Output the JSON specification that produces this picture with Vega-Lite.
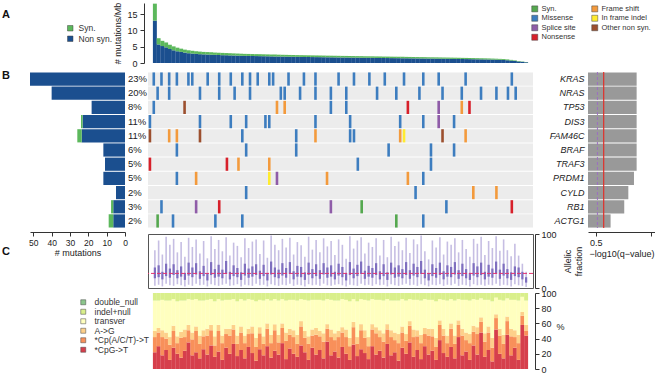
{
"$schema":"https://vega.github.io/schema/vega-lite/v6.json",
"padding":{"left":2,"top":2,"right":0,"bottom":0},
"columns":4,"align":"each","bounds":"flush","spacing":{"row":5,"column":23},
"resolve":{"scale":{"color":"independent","x":"independent","y":"independent"},"legend":{"color":"independent"}},
"config":{"view":{"stroke":null},"font":"Liberation Sans",
"axis":{"labelFontSize":9,"titleFontSize":9,"labelColor":"#222","titleColor":"#222","titleFontWeight":"normal","tickColor":"#333","domainColor":"#333","grid":false,"tickSize":4,"labelPadding":2,"labelOverlap":false},
"legend":{"labelFontSize":8.5,"labelColor":"#333","symbolType":"square","symbolStrokeColor":"#444","symbolStrokeWidth":0.5}},
"datasets":{
"samples":[
{"s":1,"n":13.0,"y":5.2,"l":4,"a":18,"b":38,"h":70,"r":22,"o":20,"g":8,"t":40,"i":10},
{"s":2,"n":5.7,"y":1.9,"l":6,"a":20,"b":42,"h":88,"r":30,"o":18,"g":6,"t":36,"i":10},
{"s":3,"n":5.2,"y":1.6,"l":3,"a":16,"b":30,"h":62,"r":18,"o":24,"g":9,"t":40,"i":9},
{"s":4,"n":4.8,"y":1.5,"l":8,"a":22,"b":45,"h":95,"r":25,"o":15,"g":8,"t":42,"i":10},
{"s":5,"n":4.3,"y":1.3,"l":5,"a":19,"b":36,"h":80,"r":12,"o":20,"g":10,"t":48,"i":10},
{"s":6,"n":3.9,"y":1.2,"l":4,"a":24,"b":44,"h":91,"r":28,"o":22,"g":7,"t":35,"i":8},
{"s":7,"n":3.6,"y":1.1,"l":7,"a":18,"b":33,"h":66,"r":20,"o":14,"g":9,"t":46,"i":11},
{"s":8,"n":3.4,"y":1.0,"l":5,"a":21,"b":40,"h":85,"r":15,"o":26,"g":8,"t":41,"i":10},
{"s":9,"n":3.2,"y":0.9,"l":3,"a":15,"b":28,"h":58,"r":24,"o":18,"g":10,"t":38,"i":10},
{"s":10,"n":3.0,"y":0.9,"l":6,"a":23,"b":47,"h":93,"r":35,"o":16,"g":7,"t":34,"i":8},
{"s":11,"n":2.9,"y":0.85,"l":4,"a":20,"b":38,"h":76,"r":18,"o":21,"g":9,"t":43,"i":9},
{"s":12,"n":2.8,"y":0.8,"l":8,"a":25,"b":46,"h":90,"r":22,"o":28,"g":6,"t":36,"i":8},
{"s":13,"n":2.7,"y":0.8,"l":5,"a":17,"b":31,"h":64,"r":14,"o":19,"g":11,"t":46,"i":10},
{"s":14,"n":2.65,"y":0.75,"l":6,"a":22,"b":41,"h":87,"r":26,"o":17,"g":8,"t":39,"i":10},
{"s":15,"n":2.6,"y":0.75,"l":3,"a":14,"b":27,"h":55,"r":19,"o":25,"g":9,"t":38,"i":9},
{"s":16,"n":2.55,"y":0.75,"l":7,"a":24,"b":48,"h":96,"r":31,"o":20,"g":7,"t":34,"i":8},
{"s":17,"n":2.5,"y":0.7,"l":5,"a":19,"b":35,"h":72,"r":16,"o":15,"g":12,"t":46,"i":11},
{"s":18,"n":2.45,"y":0.7,"l":4,"a":21,"b":43,"h":89,"r":23,"o":27,"g":8,"t":34,"i":8},
{"s":19,"n":2.4,"y":0.7,"l":6,"a":18,"b":34,"h":68,"r":12,"o":22,"g":10,"t":46,"i":10},
{"s":20,"n":2.38,"y":0.67,"l":8,"a":26,"b":50,"h":94,"r":28,"o":18,"g":7,"t":38,"i":9},
{"s":21,"n":2.33,"y":0.67,"l":4,"a":16,"b":30,"h":60,"r":20,"o":24,"g":9,"t":38,"i":9},
{"s":22,"n":2.3,"y":0.65,"l":5,"a":22,"b":42,"h":84,"r":33,"o":19,"g":6,"t":34,"i":8},
{"s":23,"n":2.26,"y":0.64,"l":7,"a":20,"b":37,"h":78,"r":17,"o":16,"g":11,"t":45,"i":11},
{"s":24,"n":2.22,"y":0.63,"l":3,"a":15,"b":29,"h":57,"r":25,"o":23,"g":8,"t":36,"i":8},
{"s":25,"n":2.19,"y":0.61,"l":6,"a":23,"b":45,"h":92,"r":14,"o":20,"g":10,"t":46,"i":10},
{"s":26,"n":2.17,"y":0.61,"l":5,"a":19,"b":36,"h":74,"r":29,"o":17,"g":7,"t":39,"i":8},
{"s":27,"n":2.15,"y":0.6,"l":4,"a":21,"b":40,"h":86,"r":21,"o":26,"g":9,"t":35,"i":9},
{"s":28,"n":2.12,"y":0.6,"l":8,"a":24,"b":44,"h":90,"r":11,"o":18,"g":12,"t":48,"i":11},
{"s":29,"n":2.1,"y":0.6,"l":5,"a":17,"b":32,"h":63,"r":26,"o":21,"g":8,"t":36,"i":9},
{"s":30,"n":2.08,"y":0.59,"l":6,"a":22,"b":43,"h":88,"r":18,"o":15,"g":10,"t":47,"i":10},
{"s":31,"n":2.06,"y":0.58,"l":3,"a":14,"b":28,"h":56,"r":30,"o":23,"g":7,"t":32,"i":8},
{"s":32,"n":2.03,"y":0.57,"l":7,"a":25,"b":49,"h":97,"r":15,"o":19,"g":11,"t":45,"i":10},
{"s":33,"n":2.01,"y":0.57,"l":5,"a":20,"b":38,"h":80,"r":24,"o":27,"g":8,"t":33,"i":8},
{"s":34,"n":1.99,"y":0.56,"l":4,"a":18,"b":34,"h":70,"r":19,"o":16,"g":10,"t":45,"i":10},
{"s":35,"n":1.97,"y":0.55,"l":6,"a":23,"b":46,"h":91,"r":34,"o":20,"g":6,"t":32,"i":8},
{"s":36,"n":1.95,"y":0.55,"l":5,"a":19,"b":37,"h":75,"r":13,"o":24,"g":11,"t":42,"i":10},
{"s":37,"n":1.93,"y":0.54,"l":8,"a":26,"b":48,"h":93,"r":27,"o":18,"g":8,"t":38,"i":9},
{"s":38,"n":1.91,"y":0.54,"l":4,"a":16,"b":31,"h":62,"r":20,"o":22,"g":9,"t":40,"i":9},
{"s":39,"n":1.89,"y":0.53,"l":6,"a":21,"b":41,"h":85,"r":16,"o":17,"g":12,"t":45,"i":10},
{"s":40,"n":1.87,"y":0.53,"l":5,"a":20,"b":39,"h":79,"r":31,"o":25,"g":7,"t":29,"i":8},
{"s":41,"n":1.85,"y":0.53,"l":3,"a":15,"b":29,"h":58,"r":22,"o":19,"g":9,"t":41,"i":9},
{"s":42,"n":1.84,"y":0.52,"l":7,"a":24,"b":47,"h":95,"r":12,"o":21,"g":10,"t":47,"i":10},
{"s":43,"n":1.82,"y":0.52,"l":5,"a":18,"b":35,"h":71,"r":28,"o":16,"g":8,"t":39,"i":9},
{"s":44,"n":1.8,"y":0.52,"l":6,"a":22,"b":44,"h":89,"r":19,"o":26,"g":9,"t":37,"i":9},
{"s":45,"n":1.79,"y":0.51,"l":4,"a":17,"b":33,"h":66,"r":25,"o":18,"g":7,"t":41,"i":9},
{"s":46,"n":1.77,"y":0.51,"l":8,"a":25,"b":46,"h":92,"r":14,"o":22,"g":11,"t":43,"i":10},
{"s":47,"n":1.75,"y":0.5,"l":5,"a":19,"b":38,"h":77,"r":36,"o":17,"g":6,"t":33,"i":8},
{"s":48,"n":1.74,"y":0.5,"l":4,"a":21,"b":42,"h":87,"r":18,"o":24,"g":10,"t":39,"i":9},
{"s":49,"n":1.72,"y":0.5,"l":6,"a":16,"b":30,"h":61,"r":23,"o":15,"g":9,"t":43,"i":10},
{"s":50,"n":1.7,"y":0.5,"l":7,"a":23,"b":45,"h":90,"r":15,"o":27,"g":8,"t":40,"i":10},
{"s":51,"n":1.69,"y":0.49,"l":5,"a":20,"b":39,"h":80,"r":29,"o":19,"g":7,"t":37,"i":8},
{"s":52,"n":1.68,"y":0.49,"l":3,"a":14,"b":28,"h":54,"r":20,"o":22,"g":10,"t":39,"i":9},
{"s":53,"n":1.66,"y":0.49,"l":6,"a":24,"b":48,"h":96,"r":12,"o":18,"g":11,"t":48,"i":11},
{"s":54,"n":1.65,"y":0.48,"l":5,"a":18,"b":36,"h":73,"r":32,"o":23,"g":7,"t":30,"i":8},
{"s":55,"n":1.63,"y":0.48,"l":4,"a":22,"b":43,"h":88,"r":17,"o":16,"g":9,"t":47,"i":11},
{"s":56,"n":1.62,"y":0.48,"l":8,"a":26,"b":49,"h":94,"r":26,"o":25,"g":8,"t":33,"i":8},
{"s":57,"n":1.6,"y":0.47,"l":5,"a":17,"b":32,"h":64,"r":21,"o":20,"g":10,"t":40,"i":9},
{"s":58,"n":1.59,"y":0.47,"l":6,"a":21,"b":41,"h":84,"r":13,"o":17,"g":12,"t":48,"i":10},
{"s":59,"n":1.58,"y":0.47,"l":4,"a":19,"b":37,"h":76,"r":30,"o":22,"g":7,"t":33,"i":8},
{"s":60,"n":1.56,"y":0.46,"l":7,"a":24,"b":46,"h":92,"r":19,"o":28,"g":8,"t":36,"i":9},
{"s":61,"n":1.55,"y":0.46,"l":5,"a":16,"b":31,"h":60,"r":24,"o":18,"g":9,"t":40,"i":9},
{"s":62,"n":1.53,"y":0.45,"l":6,"a":22,"b":44,"h":89,"r":15,"o":21,"g":11,"t":43,"i":10},
{"s":63,"n":1.52,"y":0.45,"l":3,"a":15,"b":29,"h":57,"r":33,"o":19,"g":7,"t":33,"i":8},
{"s":64,"n":1.5,"y":0.45,"l":7,"a":25,"b":47,"h":95,"r":18,"o":24,"g":9,"t":39,"i":10},
{"s":65,"n":1.49,"y":0.44,"l":5,"a":19,"b":38,"h":78,"r":22,"o":16,"g":10,"t":42,"i":10},
{"s":66,"n":1.48,"y":0.44,"l":4,"a":21,"b":42,"h":86,"r":11,"o":23,"g":12,"t":44,"i":10},
{"s":67,"n":1.46,"y":0.43,"l":6,"a":18,"b":35,"h":70,"r":28,"o":20,"g":8,"t":36,"i":8},
{"s":68,"n":1.45,"y":0.43,"l":8,"a":24,"b":48,"h":93,"r":20,"o":17,"g":9,"t":44,"i":10},
{"s":69,"n":1.43,"y":0.43,"l":5,"a":17,"b":33,"h":65,"r":35,"o":22,"g":6,"t":29,"i":8},
{"s":70,"n":1.42,"y":0.42,"l":6,"a":23,"b":45,"h":90,"r":16,"o":26,"g":10,"t":39,"i":9},
{"s":71,"n":1.4,"y":0.42,"l":4,"a":20,"b":39,"h":81,"r":25,"o":18,"g":8,"t":40,"i":9},
{"s":72,"n":1.39,"y":0.41,"l":7,"a":26,"b":50,"h":97,"r":13,"o":21,"g":11,"t":45,"i":10},
{"s":73,"n":1.38,"y":0.41,"l":5,"a":18,"b":34,"h":68,"r":30,"o":16,"g":8,"t":38,"i":8},
{"s":74,"n":1.36,"y":0.4,"l":3,"a":14,"b":27,"h":53,"r":19,"o":25,"g":9,"t":38,"i":9},
{"s":75,"n":1.35,"y":0.4,"l":6,"a":22,"b":44,"h":88,"r":24,"o":19,"g":10,"t":38,"i":9},
{"s":76,"n":1.33,"y":0.4,"l":5,"a":19,"b":37,"h":75,"r":12,"o":17,"g":12,"t":48,"i":11},
{"s":77,"n":1.32,"y":0.39,"l":7,"a":24,"b":47,"h":94,"r":38,"o":20,"g":6,"t":28,"i":8},
{"s":78,"n":1.3,"y":0.39,"l":4,"a":16,"b":31,"h":62,"r":21,"o":23,"g":9,"t":38,"i":9},
{"s":79,"n":1.29,"y":0.38,"l":6,"a":21,"b":42,"h":86,"r":16,"o":18,"g":10,"t":46,"i":10},
{"s":80,"n":1.27,"y":0.38,"l":5,"a":20,"b":39,"h":80,"r":29,"o":24,"g":7,"t":32,"i":8},
{"s":81,"n":1.26,"y":0.37,"l":8,"a":25,"b":48,"h":92,"r":14,"o":19,"g":11,"t":46,"i":10},
{"s":82,"n":1.24,"y":0.37,"l":4,"a":17,"b":33,"h":66,"r":42,"o":16,"g":6,"t":28,"i":8},
{"s":83,"n":1.22,"y":0.36,"l":6,"a":22,"b":45,"h":89,"r":18,"o":26,"g":9,"t":38,"i":9},
{"s":84,"n":1.2,"y":0.36,"l":5,"a":18,"b":35,"h":72,"r":23,"o":15,"g":10,"t":43,"i":9},
{"s":85,"n":1.18,"y":0.35,"l":3,"a":15,"b":28,"h":58,"r":12,"o":22,"g":12,"t":44,"i":10},
{"s":86,"n":1.16,"y":0.35,"l":7,"a":23,"b":46,"h":91,"r":31,"o":18,"g":8,"t":35,"i":8},
{"s":87,"n":1.14,"y":0.34,"l":5,"a":20,"b":40,"h":82,"r":19,"o":27,"g":9,"t":36,"i":9},
{"s":88,"n":1.12,"y":0.33,"l":6,"a":24,"b":47,"h":95,"r":48,"o":14,"g":6,"t":25,"i":7},
{"s":89,"n":1.1,"y":0.33,"l":4,"a":16,"b":30,"h":61,"r":16,"o":20,"g":11,"t":44,"i":9},
{"s":90,"n":1.08,"y":0.32,"l":6,"a":21,"b":43,"h":87,"r":25,"o":23,"g":8,"t":35,"i":9},
{"s":91,"n":1.05,"y":0.31,"l":5,"a":19,"b":36,"h":74,"r":10,"o":18,"g":13,"t":48,"i":11},
{"s":92,"n":1.02,"y":0.3,"l":8,"a":26,"b":49,"h":96,"r":52,"o":15,"g":5,"t":22,"i":6},
{"s":93,"n":0.98,"y":0.29,"l":4,"a":17,"b":34,"h":69,"r":20,"o":24,"g":9,"t":38,"i":9},
{"s":94,"n":0.93,"y":0.28,"l":6,"a":23,"b":45,"h":90,"r":14,"o":19,"g":12,"t":45,"i":10},
{"s":95,"n":0.85,"y":0.25,"l":5,"a":18,"b":35,"h":70,"r":45,"o":18,"g":6,"t":24,"i":7},
{"s":96,"n":0.74,"y":0.22,"l":3,"a":15,"b":29,"h":59,"r":18,"o":25,"g":10,"t":38,"i":9},
{"s":97,"n":0.62,"y":0.18,"l":7,"a":22,"b":40,"h":82,"r":28,"o":14,"g":9,"t":40,"i":9},
{"s":98,"n":0.47,"y":0.14,"l":5,"a":20,"b":38,"h":60,"r":12,"o":22,"g":11,"t":45,"i":10},
{"s":99,"n":0.35,"y":0.1,"l":4,"a":16,"b":30,"h":45,"r":58,"o":12,"g":5,"t":20,"i":5},
{"s":100,"n":0.23,"y":0.07,"l":2,"a":10,"b":20,"h":30,"r":44,"o":6,"g":8,"t":32,"i":10}
],
"genes":[
{"g":"KRAS","b":51.8,"sy":0,"p":"23%","q":3.1},
{"g":"NRAS","b":40,"sy":0,"p":"20%","q":3.1},
{"g":"TP53","b":18.2,"sy":0,"p":"8%","q":3.1},
{"g":"DIS3","b":23.1,"sy":0.9,"p":"11%","q":3.1},
{"g":"FAM46C","b":23.6,"sy":2.4,"p":"11%","q":3.1},
{"g":"BRAF","b":11.8,"sy":0,"p":"6%","q":3.1},
{"g":"TRAF3","b":10.9,"sy":0,"p":"5%","q":3.1},
{"g":"PRDM1","b":11.8,"sy":0,"p":"5%","q":2.93},
{"g":"CYLD","b":4.9,"sy":0,"p":"2%","q":2.57},
{"g":"RB1","b":6.4,"sy":1.2,"p":"3%","q":2.31},
{"g":"ACTG1","b":6.4,"sy":2.5,"p":"2%","q":1.44}
],
"spn":[{"k":"r","nm":"*CpG->T","ord":1},{"k":"o","nm":"*Cp(A/C/T)->T","ord":2},{"k":"g","nm":"A->G","ord":3},{"k":"t","nm":"transver","ord":4},{"k":"i","nm":"indel+null","ord":5}],
"muts":[
{"g":"KRAS","s":2,"t":"Missense"},{"g":"KRAS","s":4,"t":"Missense"},{"g":"KRAS","s":6,"t":"Missense"},{"g":"KRAS","s":8,"t":"Missense"},{"g":"KRAS","s":11,"t":"Missense"},{"g":"KRAS","s":12,"t":"Missense"},{"g":"KRAS","s":16,"t":"Missense"},{"g":"KRAS","s":19,"t":"Missense"},{"g":"KRAS","s":22,"t":"Missense"},{"g":"KRAS","s":25,"t":"Missense"},{"g":"KRAS","s":27,"t":"Missense"},{"g":"KRAS","s":29,"t":"Missense"},{"g":"KRAS","s":32,"t":"Missense"},{"g":"KRAS","s":33,"t":"Missense"},{"g":"KRAS","s":37,"t":"Missense"},{"g":"KRAS","s":41,"t":"Missense"},{"g":"KRAS","s":44,"t":"Missense"},{"g":"KRAS","s":50,"t":"Missense"},{"g":"KRAS","s":54,"t":"Missense"},{"g":"KRAS","s":58,"t":"Missense"},{"g":"KRAS","s":62,"t":"Missense"},{"g":"KRAS","s":67,"t":"Missense"},{"g":"KRAS","s":72,"t":"Missense"},{"g":"KRAS","s":76,"t":"Missense"},{"g":"KRAS","s":83,"t":"Missense"},{"g":"KRAS","s":95,"t":"Missense"},
{"g":"NRAS","s":3,"t":"Missense"},{"g":"NRAS","s":6,"t":"Missense"},{"g":"NRAS","s":14,"t":"Missense"},{"g":"NRAS","s":19,"t":"Missense"},{"g":"NRAS","s":23,"t":"Missense"},{"g":"NRAS","s":27,"t":"Missense"},{"g":"NRAS","s":35,"t":"Missense"},{"g":"NRAS","s":36,"t":"Missense"},{"g":"NRAS","s":40,"t":"Missense"},{"g":"NRAS","s":44,"t":"Missense"},{"g":"NRAS","s":48,"t":"Missense"},{"g":"NRAS","s":52,"t":"Missense"},{"g":"NRAS","s":60,"t":"Missense"},{"g":"NRAS","s":65,"t":"Missense"},{"g":"NRAS","s":71,"t":"Missense"},{"g":"NRAS","s":77,"t":"Missense"},{"g":"NRAS","s":82,"t":"Missense"},{"g":"NRAS","s":87,"t":"Missense"},{"g":"NRAS","s":91,"t":"Missense"},{"g":"NRAS","s":94,"t":"Missense"},{"g":"NRAS","s":96,"t":"Missense"},
{"g":"TP53","s":2,"t":"Missense"},{"g":"TP53","s":10,"t":"Other non syn."},{"g":"TP53","s":34,"t":"Frame shift"},{"g":"TP53","s":36,"t":"Frame shift"},{"g":"TP53","s":48,"t":"Missense"},{"g":"TP53","s":52,"t":"Missense"},{"g":"TP53","s":68,"t":"Nonsense"},{"g":"TP53","s":76,"t":"Splice site"},{"g":"TP53","s":82,"t":"Frame shift"},{"g":"TP53","s":84,"t":"Nonsense"},
{"g":"DIS3","s":1,"t":"Missense"},{"g":"DIS3","s":14,"t":"Missense"},{"g":"DIS3","s":22,"t":"Missense"},{"g":"DIS3","s":26,"t":"Missense"},{"g":"DIS3","s":31,"t":"Missense"},{"g":"DIS3","s":32,"t":"Missense"},{"g":"DIS3","s":44,"t":"Missense"},{"g":"DIS3","s":53,"t":"Missense"},{"g":"DIS3","s":66,"t":"Missense"},{"g":"DIS3","s":72,"t":"Missense"},{"g":"DIS3","s":76,"t":"Splice site"},{"g":"DIS3","s":80,"t":"Missense"},
{"g":"FAM46C","s":1,"t":"Other non syn."},{"g":"FAM46C","s":6,"t":"Frame shift"},{"g":"FAM46C","s":8,"t":"Frame shift"},{"g":"FAM46C","s":14,"t":"Other non syn."},{"g":"FAM46C","s":25,"t":"Missense"},{"g":"FAM46C","s":39,"t":"Missense"},{"g":"FAM46C","s":44,"t":"Frame shift"},{"g":"FAM46C","s":53,"t":"Missense"},{"g":"FAM46C","s":54,"t":"Missense"},{"g":"FAM46C","s":66,"t":"Frame shift"},{"g":"FAM46C","s":67,"t":"In frame indel"},{"g":"FAM46C","s":77,"t":"Other non syn."},{"g":"FAM46C","s":83,"t":"Frame shift"},
{"g":"BRAF","s":8,"t":"Missense"},{"g":"BRAF","s":26,"t":"Missense"},{"g":"BRAF","s":39,"t":"Missense"},{"g":"BRAF","s":63,"t":"Missense"},{"g":"BRAF","s":74,"t":"Missense"},{"g":"BRAF","s":80,"t":"Missense"},
{"g":"TRAF3","s":1,"t":"Nonsense"},{"g":"TRAF3","s":21,"t":"Nonsense"},{"g":"TRAF3","s":24,"t":"Frame shift"},{"g":"TRAF3","s":32,"t":"Frame shift"},{"g":"TRAF3","s":55,"t":"Missense"},{"g":"TRAF3","s":74,"t":"Missense"},
{"g":"PRDM1","s":8,"t":"Missense"},{"g":"PRDM1","s":13,"t":"Frame shift"},{"g":"PRDM1","s":32,"t":"In frame indel"},{"g":"PRDM1","s":34,"t":"Splice site"},{"g":"PRDM1","s":47,"t":"Frame shift"},{"g":"PRDM1","s":68,"t":"Frame shift"},{"g":"PRDM1","s":72,"t":"Missense"},
{"g":"CYLD","s":26,"t":"Missense"},{"g":"CYLD","s":70,"t":"Missense"},{"g":"CYLD","s":85,"t":"Frame shift"},{"g":"CYLD","s":91,"t":"Frame shift"},
{"g":"RB1","s":4,"t":"Missense"},{"g":"RB1","s":13,"t":"Splice site"},{"g":"RB1","s":19,"t":"Nonsense"},{"g":"RB1","s":48,"t":"Splice site"},{"g":"RB1","s":56,"t":"Syn."},{"g":"RB1","s":78,"t":"Missense"},{"g":"RB1","s":95,"t":"Nonsense"},
{"g":"ACTG1","s":3,"t":"Syn."},{"g":"ACTG1","s":7,"t":"Missense"},{"g":"ACTG1","s":18,"t":"Missense"},{"g":"ACTG1","s":25,"t":"Missense"},{"g":"ACTG1","s":65,"t":"Syn."},{"g":"ACTG1","s":72,"t":"Missense"}
]},
"concat":[
{"width":95,"height":64,"data":{"values":[]},"mark":"point",
 "title":{"text":"A","anchor":"start","frame":"group","offset":0,"dx":-28,"dy":26,"fontSize":11,"fontWeight":"bold","color":"#111","baseline":"alphabetic"}},
{"width":385,"height":60,"data":{"name":"samples"},"transform":[{"fold":["n","y"]}],
 "mark":{"type":"bar","width":3.95},
 "encoding":{
  "x":{"field":"s","type":"quantitative","scale":{"domain":[0.5,100.5],"nice":false,"zero":false},"axis":null},
  "y":{"field":"value","type":"quantitative","stack":"zero","scale":{"domain":[0,18.4],"nice":false},"axis":{"values":[0,5,10,15],"title":"# mutations/Mb","offset":4,"labelPadding":3,"titlePadding":4}},
  "color":{"field":"key","type":"nominal","scale":{"domain":["y","n"],"range":["#5cb85c","#1b4f8f"]},
   "legend":{"orient":"none","legendX":-82,"legendY":21,"title":null,"labelExpr":"datum.label=='y'?'Syn.':'Non syn.'","symbolSize":30,"labelFontSize":8.5,"rowPadding":1.5}},
  "order":{"field":"key","sort":"ascending"}}},
{"width":9,"height":1,"data":{"values":[]},"mark":"point"},
{"width":67,"height":1,"data":{"values":[]},"mark":"point"},
{"width":95,"height":156,"data":{"name":"genes"},
 "title":{"text":"B","anchor":"start","frame":"group","offset":0,"dx":-28,"dy":18,"fontSize":11,"fontWeight":"bold","color":"#111","baseline":"alphabetic"},
 "layer":[
  {"transform":[{"fold":["b","sy"]}],"mark":{"type":"bar"},
   "encoding":{
    "y":{"field":"g","type":"nominal","scale":{"domain":["KRAS","NRAS","TP53","DIS3","FAM46C","BRAF","TRAF3","PRDM1","CYLD","RB1","ACTG1"],"paddingInner":0.07,"paddingOuter":0.03},"axis":null},
    "x":{"field":"value","type":"quantitative","stack":"zero","scale":{"domain":[0,51.8],"reverse":true,"nice":false},"axis":{"tickCount":6,"labelOverlap":false,"labelBound":false,"labelFlush":false,"labelSeparation":0,"labelFontSize":8.5,"title":"# mutations","offset":4,"titlePadding":2}},
    "color":{"field":"key","type":"nominal","scale":{"domain":["b","sy"],"range":["#1b4f8f","#5cb85c"]},"legend":null},
    "order":{"field":"key","sort":"ascending"}}},
  {"mark":{"type":"text","align":"left","dx":3,"fontSize":9.5,"color":"#222"},
   "encoding":{
    "y":{"field":"g","type":"nominal"},
    "x":{"datum":0,"type":"quantitative"},
    "text":{"field":"p"}}}
 ]},
{"width":385,"height":156,
 "layer":[
  {"data":{"name":"genes"},"mark":{"type":"bar","color":"#ececec"},
   "encoding":{"y":{"field":"g","type":"nominal","scale":{"domain":["KRAS","NRAS","TP53","DIS3","FAM46C","BRAF","TRAF3","PRDM1","CYLD","RB1","ACTG1"],"paddingInner":0.07,"paddingOuter":0.03},"axis":null}}},
  {"data":{"name":"muts"},"mark":{"type":"rect","width":2.6},
   "encoding":{
    "x":{"field":"s","type":"quantitative","scale":{"domain":[0.5,100.5],"nice":false,"zero":false},"axis":null},
    "y":{"field":"g","type":"nominal"},
    "color":{"field":"t","type":"nominal",
     "scale":{"domain":["Syn.","Missense","Splice site","Nonsense","Frame shift","In frame indel","Other non syn."],"range":["#55a84f","#3d7dbf","#8f5ca8","#d7202a","#f39a3c","#ffec2f","#9c4f2e"]},
     "legend":{"orient":"none","legendX":383,"legendY":-67,"columns":2,"title":null,"symbolSize":36,"labelFontSize":7.5,"labelOffset":3,"rowPadding":0.5,"columnPadding":14}}}}
 ]},
{"width":9,"height":157,"data":{"values":[]},"mark":"point"},
{"width":67,"height":156,
 "layer":[
  {"data":{"name":"genes"},"mark":{"type":"bar","color":"#999999"},
   "encoding":{
    "y":{"field":"g","type":"nominal","scale":{"domain":["KRAS","NRAS","TP53","DIS3","FAM46C","BRAF","TRAF3","PRDM1","CYLD","RB1","ACTG1"],"paddingInner":0.07,"paddingOuter":0.03},"axis":{"title":null,"ticks":false,"domain":false,"labelFontStyle":"italic","labelFontSize":9,"labelPadding":4}},
    "x":{"field":"q","type":"quantitative","scale":{"domain":[0,4.27],"nice":false},"axis":{"values":[0.5,1,1.5,2,2.5,3,3.5,4],"labelExpr":"datum.value==0.5||datum.value==2||datum.value==3.5?format(datum.value,'.1f'):''","title":"−log10(q−value)","offset":4,"titlePadding":2}}}},
  {"data":{"values":[{}]},"mark":{"type":"rule","color":"#9b6fc0","strokeDash":[3,2],"strokeWidth":1},"encoding":{"x":{"datum":0.6,"type":"quantitative"}}},
  {"data":{"values":[{}]},"mark":{"type":"rule","color":"#e0302a","strokeWidth":1.2},"encoding":{"x":{"datum":1,"type":"quantitative"}}}
 ]},
{"width":95,"height":54,"data":{"values":[]},"mark":"point",
 "title":{"text":"C","anchor":"start","frame":"group","offset":0,"dx":-28,"dy":32,"fontSize":11,"fontWeight":"bold","color":"#111","baseline":"alphabetic"}},
{"width":385,"height":54,"view":{"stroke":"#555","strokeWidth":1},"data":{"name":"samples"},
 "layer":[
  {"mark":{"type":"rule","color":"#c6bee3","strokeWidth":1.6},
   "encoding":{
    "x":{"field":"s","type":"quantitative","scale":{"domain":[0.5,100.5],"nice":false,"zero":false},"axis":null},
    "y":{"field":"l","type":"quantitative","scale":{"domain":[0,100],"nice":false},"axis":{"orient":"right","values":[0,20,40,60,80,100],"title":["Allelic","fraction"],"titleAngle":270,"offset":2,"titlePadding":5}},
    "y2":{"field":"h"}}},
  {"mark":{"type":"bar","width":2.2,"color":"#7f6fbf"},
   "encoding":{
    "x":{"field":"s","type":"quantitative"},
    "y":{"field":"a","type":"quantitative"},
    "y2":{"field":"b"}}},
  {"data":{"values":[{}]},"mark":{"type":"rule","color":"#e5336f","strokeDash":[4,2],"strokeWidth":1},"encoding":{"y":{"datum":27,"type":"quantitative"}}}
 ]},
{"width":9,"height":1,"data":{"values":[]},"mark":"point"},
{"width":67,"height":1,"data":{"values":[]},"mark":"point"},
{"width":95,"height":1,"data":{"values":[]},"mark":"point"},
{"width":385,"height":76,"data":{"name":"samples"},
 "transform":[{"fold":["r","o","g","t","i"]},{"lookup":"key","from":{"data":{"name":"spn"},"key":"k","fields":["nm","ord"]}}],
 "mark":{"type":"bar","width":3.95},
 "encoding":{
  "x":{"field":"s","type":"quantitative","scale":{"domain":[0.5,100.5],"nice":false,"zero":false},"axis":null},
  "y":{"field":"value","type":"quantitative","stack":"normalize","scale":{"domain":[0,1],"nice":false},"axis":{"orient":"right","values":[0,0.2,0.4,0.6,0.8,1],"labelExpr":"format(datum.value*100,'d')","title":"%","titleAngle":0,"offset":2,"titlePadding":4}},
  "color":{"field":"nm","type":"nominal","scale":{"domain":["double_null","indel+null","transver","A->G","*Cp(A/C/T)->T","*CpG->T"],"range":["#8cc68c","#d9ef8b","#ffffbf","#fdd08a","#f8905a","#d63f4c"]},
   "legend":{"orient":"none","legendX":-69,"legendY":5,"title":null,"symbolSize":25,"labelFontSize":8.5,"rowPadding":0.5,"labelOffset":7}},
  "order":{"field":"ord","sort":"ascending"}}}
]
}
